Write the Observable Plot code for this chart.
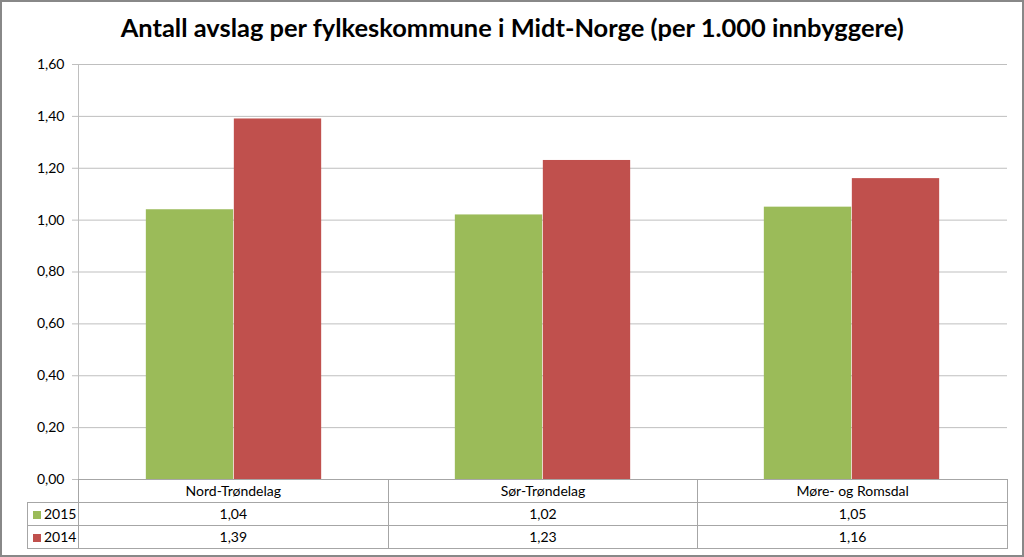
<!DOCTYPE html>
<html>
<head>
<meta charset="utf-8">
<script src="https://cdn.jsdelivr.net/npm/d3@7"></script>
<script src="https://cdn.jsdelivr.net/npm/@observablehq/plot@0.6"></script>
<style>
  html, body { margin: 0; padding: 0; background: #fff; }
  #wrap { position: relative; width: 1024px; height: 557px; overflow: hidden; font-family: Lato, "Open Sans", sans-serif; color: #000; }
  #frame { position: absolute; left: 0; top: 0; width: 1024px; height: 557px; box-sizing: border-box; border: 2px solid #888; pointer-events: none; }
  #title { position: absolute; left: 0; top: 14px; width: 1024px; text-align: center; font-weight: bold; font-size: 24px; line-height: 28px; white-space: nowrap; }
  #title span { display: inline-block; transform-origin: center; }
  #chart { position: absolute; left: 0; top: 0; }
  #table { position: absolute; left: 27px; top: 479px; border-collapse: collapse; table-layout: fixed; font-size: 14px; }
  #table td { border: 1px solid #a6a6a6; height: 22px; padding: 0; text-align: center; vertical-align: middle; line-height: 22px; }
  #table td.blank { border: none; }
  #table td.leg { text-align: left; padding-left: 5px; }
  .sw { display: inline-block; width: 8px; height: 8px; margin-right: 3px; vertical-align: 0px; }
</style>
</head>
<body>
<div id="wrap">
  <div id="chart"></div>
  <div id="title"><span>Antall avslag per fylkeskommune i Midt-Norge (per 1.000 innbyggere)</span></div>
  <table id="table"></table>
  <div id="frame"></div>
</div>
<script>
const titleText = "Antall avslag per fylkeskommune i Midt-Norge (per 1.000 innbyggere)";
const categories = ["Nord-Trøndelag", "Sør-Trøndelag", "Møre- og Romsdal"];
const seriesNames = ["2015", "2014"];
const values2015 = [1.04, 1.02, 1.05];
const values2014 = [1.39, 1.23, 1.16];
const yTicks = [0, 0.2, 0.4, 0.6, 0.8, 1.0, 1.2, 1.4, 1.6];
const seriesColors = ["#9BBB59", "#C0504D"];

const fmt = d => d.toFixed(2).replace(".", ",");

const W = 1024, mL = 78, mR = 17;
const bw = (W - mL - mR) / categories.length;
const barW = 88;
const outer = (bw - 2 * barW) / 2;
const inner = outer + barW;

const rows2015 = categories.map((c, i) => ({category: c, value: values2015[i]}));
const rows2014 = categories.map((c, i) => ({category: c, value: values2014[i]}));

const chart = Plot.plot({
  width: W,
  height: 492,
  marginTop: 64,
  marginBottom: 13,
  marginLeft: mL,
  marginRight: mR,
  x: {domain: categories, padding: 0, axis: null},
  y: {domain: [0, 1.6], axis: null, label: null},
  style: {fontFamily: "Lato, 'Open Sans', sans-serif", fontSize: "14px", background: "transparent", color: "#000"},
  marks: [
    Plot.ruleY(yTicks, {stroke: "#bfbfbf", strokeWidth: 1}),
    Plot.barY(rows2015, {x: "category", y: "value", fill: seriesColors[0], insetLeft: outer, insetRight: inner}),
    Plot.barY(rows2014, {x: "category", y: "value", fill: seriesColors[1], insetLeft: inner, insetRight: outer}),
    Plot.frame({anchor: "left", stroke: "#bfbfbf"}),
    Plot.axisY({ticks: yTicks, tickSize: 6, tickPadding: 8, tickFormat: fmt, stroke: "#bfbfbf", fill: "#000", label: null})
  ]
});
document.getElementById("chart").appendChild(chart);

// data table
const table = document.getElementById("table");
const colgroup = document.createElement("colgroup");
[51, bw, bw, bw].forEach(w => { const c = document.createElement("col"); c.style.width = w + "px"; colgroup.appendChild(c); });
table.appendChild(colgroup);
table.style.width = (51 + 3 * bw) + "px";
const head = document.createElement("tr");
const blank = document.createElement("td"); blank.className = "blank"; head.appendChild(blank);
categories.forEach(c => { const td = document.createElement("td"); td.textContent = c; head.appendChild(td); });
table.appendChild(head);
[values2015, values2014].forEach((vals, s) => {
  const tr = document.createElement("tr");
  const lg = document.createElement("td"); lg.className = "leg";
  const sw = document.createElement("span"); sw.className = "sw"; sw.style.background = seriesColors[s];
  lg.appendChild(sw); lg.appendChild(document.createTextNode(seriesNames[s]));
  tr.appendChild(lg);
  vals.forEach(v => { const td = document.createElement("td"); td.textContent = fmt(v); tr.appendChild(td); });
  table.appendChild(tr);
});

// fit title width to reference
const span = document.querySelector("#title span");
const w = span.getBoundingClientRect().width;
span.style.transform = `scaleX(${783 / w})`;
</script>
</body>
</html>
